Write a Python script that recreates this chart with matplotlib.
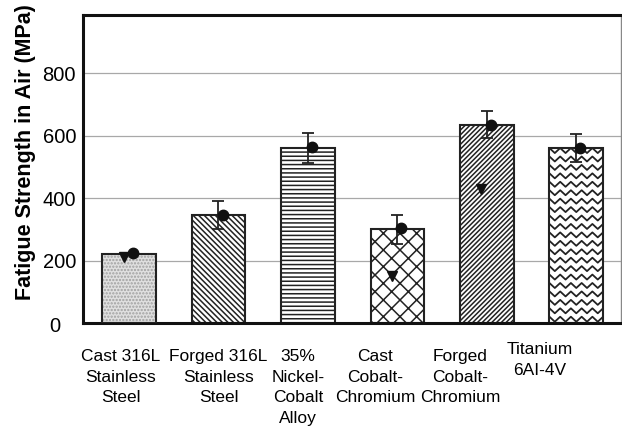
import numpy as np
import matplotlib
matplotlib.use("Agg")
import matplotlib.pyplot as plt
from matplotlib.transforms import ScaledTranslation

plt.rcParams['font.family'] = ['Liberation Sans', 'DejaVu Sans']
plt.rcParams['hatch.linewidth'] = 1.1

# ---- data ----
categories = ["Cast 316L\nStainless\nSteel", "Forged 316L\nStainless\nSteel",
              "35%\nNickel-\nCobalt\nAlloy", "Cast\nCobalt-\nChromium",
              "Forged\nCobalt-\nChromium", "Titanium\n6AI-4V"]
strength = [220, 345, 560, 300, 635, 560]
error = [0, 45, 47, 46, 44, 44]
circle_pts = [224, 346, 563, 305, 634, 560]
tri_pts = [211, np.nan, np.nan, 151, 429, np.nan]
yticks = [0, 200, 400, 600, 800]

# ---- style ----
hatches = [None, '\\\\\\\\\\\\', '----', 'xx', '///////', None]
label_dx = [-6, 0, -7, -16, -19, -26]   # points
label_dy = [0, 0, 0, 0, 0, 5]

fig = plt.figure(figsize=(6.22, 4.34), dpi=100)
ax = fig.add_axes([0.1334, 0.2558, 0.865, 0.7097])

x = np.arange(len(categories))
w = 0.6

for yv in yticks[1:]:
    ax.axhline(yv, color='#a8a8a8', lw=0.9, zorder=0)

bars = []
for i in range(len(categories)):
    if i == 0:
        ax.bar(x[i], strength[i], w, color='#e0e0e0', edgecolor='#a0a0a0',
               hatch='.....', lw=0, zorder=2)
        b = ax.bar(x[i], strength[i], w, fill=False, edgecolor='#222222', lw=1.5, zorder=3)
    else:
        b = ax.bar(x[i], strength[i], w, color='white', edgecolor='#222222',
                   hatch=hatches[i], lw=1.5, zorder=2)
    bars.append(b[0])

# zigzag pattern for Titanium bar
p = bars[5]
x0, wd, h = p.get_x(), p.get_width(), p.get_height()
period = wd / 5.0
amp = 8
xs = np.arange(x0, x0 + wd + period / 2, period / 2)
sign = np.where(np.arange(len(xs)) % 2 == 0, 1, -1)
for yy in np.arange(12, h, 27):
    line, = ax.plot(xs, yy + amp * sign, color='#222222', lw=1.3, zorder=3)
    line.set_clip_path(p)

# error bars
for i in range(len(categories)):
    if error[i] > 0:
        ax.errorbar(x[i], strength[i], yerr=error[i], fmt='none', ecolor='#222222',
                    elinewidth=1.3, capsize=4, capthick=1.3, zorder=4)

ax.plot(x + 0.045, circle_pts, 'o', color='#111111', ms=7.5, ls='none', zorder=5)
ax.plot(x - 0.06, tri_pts, 'v', color='#111111', ms=7.5, ls='none', zorder=5)

ax.set_xlim(-0.515, 5.5)
ax.set_ylim(0, 986)
ax.set_yticks(yticks)
ax.set_yticklabels([str(v) for v in yticks], fontsize=14.5)
ax.set_xticks(x)
ax.set_xticklabels(categories, fontsize=12.5, linespacing=1.45, va='top')
ax.tick_params(axis='both', length=0)
ax.tick_params(axis='x', pad=19)
ax.tick_params(axis='y', pad=5)

for i, lab in enumerate(ax.get_xticklabels()):
    lab.set_transform(lab.get_transform() +
                      ScaledTranslation(label_dx[i] / 72, label_dy[i] / 72, fig.dpi_scale_trans))
ylab0 = ax.get_yticklabels()[0]
ylab0.set_transform(ylab0.get_transform() +
                    ScaledTranslation(-11 / 72, -1 / 72, fig.dpi_scale_trans))

ax.set_ylabel("Fatigue Strength in Air (MPa)", fontsize=15.5, fontweight='bold')
ax.yaxis.set_label_coords(-0.088, 0.555)

for s in ['top', 'left', 'bottom']:
    ax.spines[s].set_linewidth(2.2)
    ax.spines[s].set_color('#111111')
ax.spines['right'].set_linewidth(1.0)
ax.spines['right'].set_color('#888888')

fig.savefig("out.png", dpi=100)
